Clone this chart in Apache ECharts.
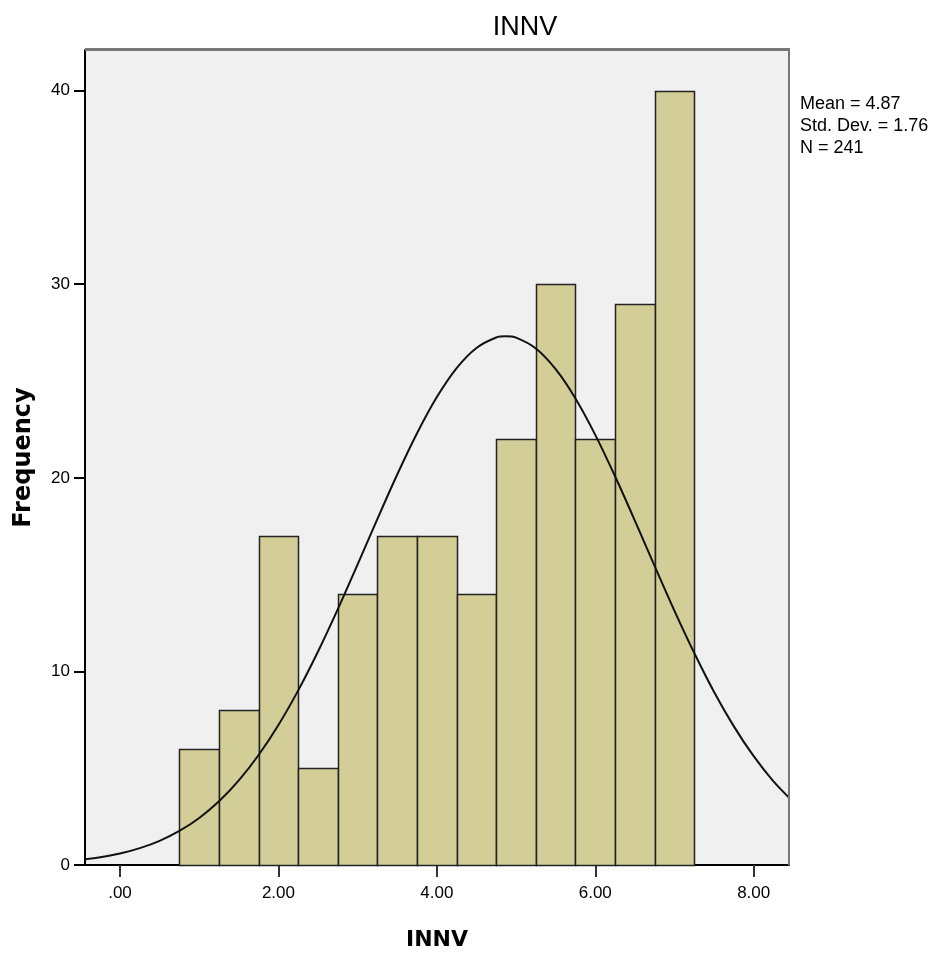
<!DOCTYPE html>
<html>
<head>
<meta charset="utf-8">
<script src="https://cdn.jsdelivr.net/npm/echarts@6/dist/echarts.min.js"></script>
<style>html,body{margin:0;padding:0;background:#fff}#c{width:938px;height:958px}</style>
</head>
<body>
<div id="c"></div>
<script>
// Histogram bins (lower edge) and frequencies
var binStarts = [0.75,1.25,1.75,2.25,2.75,3.25,3.75,4.25,4.75,5.25,5.75,6.25,6.75];
var binWidth = 0.5;
var frequencies = [6,8,17,5,14,17,17,14,22,30,22,29,40];
// Normal curve points
var curveX = [-0.5,-0.25,0,0.25,0.5,0.75,1,1.25,1.5,1.75,2,2.25,2.5,2.75,3,3.25,3.5,3.75,4,4.25,4.5,4.75,4.87,5,5.25,5.5,5.75,6,6.25,6.5,6.75,7,7.25,7.5,7.75,8,8.25,8.5];
var curveY = [0.26,0.40,0.59,0.87,1.25,1.76,2.43,3.29,4.37,5.68,7.23,9.02,11.03,13.22,15.53,17.88,20.17,22.30,24.17,25.67,26.71,27.25,27.31,27.24,26.68,25.61,24.10,22.22,20.08,17.79,15.44,13.13,10.95,8.94,7.16,5.62,4.32,3.26];
var xTicks = [0,2,4,6,8];
var yTicks = [0,10,20,30,40];
var statsLines = ['Mean = 4.87','Std. Dev. = 1.76','N = 241'];
var titleText = 'INNV';
var xName = 'INNV';
var yName = 'Frequency';

var barData = binStarts.map(function(s,i){return [s, s+binWidth, frequencies[i]];});
var lineData = curveX.map(function(x,i){return [x, curveY[i]];});

var chart = echarts.init(document.getElementById('c'));
chart.setOption({
  animation:false,
  title:{text:titleText,left:520,top:9,textAlign:'center',textStyle:{fontFamily:'Liberation Sans',fontSize:27,fontWeight:'normal',color:'#000'}},
  graphic:[
    {type:'text',left:800,top:93,style:{text:statsLines.join('\n'),font:'18px "Liberation Sans"',lineHeight:22,fill:'#000'}},
    {type:'rect',shape:{x:85,y:48,width:705,height:3},style:{fill:'#777'},z:10},
    {type:'rect',shape:{x:788,y:48,width:2,height:817},style:{fill:'#777'},z:10}
  ],
  grid:{left:85,top:50,right:149,bottom:93,show:true,backgroundColor:'#f0f0f0',borderWidth:0},
  xAxis:{type:'value',min:-0.442,max:8.446,
    name:xName,nameLocation:'middle',nameGap:64,nameTextStyle:{fontFamily:'DejaVu Sans',fontWeight:'bold',fontSize:22,color:'#000'},
    axisLine:{show:true,onZero:false,lineStyle:{color:'#000',width:2}},
    axisTick:{show:true,customValues:xTicks,length:12,lineStyle:{color:'#333',width:2}},
    axisLabel:{customValues:xTicks,formatter:function(v){return v.toFixed(2).replace(/^0/,'');},fontFamily:'Liberation Sans',fontSize:17,color:'#000',margin:20},
    splitLine:{show:false}},
  yAxis:{type:'value',min:0,max:42.1,
    name:yName,nameLocation:'middle',nameGap:49,nameTextStyle:{fontFamily:'DejaVu Sans',fontWeight:'bold',fontSize:24,color:'#000'},
    axisLine:{show:true,onZero:false,lineStyle:{color:'#000',width:2}},
    axisTick:{show:true,customValues:yTicks,length:11,lineStyle:{color:'#000',width:2}},
    axisLabel:{customValues:yTicks,fontFamily:'Liberation Sans',fontSize:17,color:'#000',margin:15},
    splitLine:{show:false}},
  series:[
    {type:'custom',data:barData,encode:{x:[0,1],y:2},
      renderItem:function(params,api){
        var p0=api.coord([api.value(0),0]);
        var p1=api.coord([api.value(1),api.value(2)]);
        return {type:'rect',shape:{x:Math.round(p0[0])+0.5,y:Math.round(p1[1])+0.5,width:Math.round(p1[0])-Math.round(p0[0]),height:Math.round(p0[1])-Math.round(p1[1])},
          style:{fill:'#d3ce98',stroke:'#222',lineWidth:1.5}};
      },z:2},
    {type:'line',data:lineData,smooth:0.3,showSymbol:false,clip:true,lineStyle:{color:'#111',width:2},z:3}
  ]
});
</script>
</body>
</html>
